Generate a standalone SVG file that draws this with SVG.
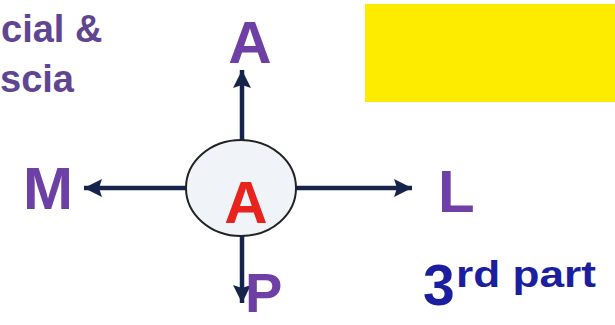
<svg xmlns="http://www.w3.org/2000/svg" width="615" height="325" viewBox="0 0 615 325">
<style>
.lbl{font-family:"Liberation Sans",Arial,sans-serif;font-weight:bold;fill:#6e40a6}
.side{font-family:"Liberation Sans",Arial,sans-serif;font-weight:bold;fill:#5f4592;font-size:38px}
.conn{stroke:#16244c;stroke-width:4.5;fill:none}
.blue{font-family:"Liberation Sans",Arial,sans-serif;font-weight:bold;fill:#1c1ea0}
</style>
<defs>
<marker id="ah" markerUnits="userSpaceOnUse" markerWidth="20" markerHeight="20" refX="18" refY="9" orient="auto">
<path d="M0,0 L18,9 L0,18 L3,9 Z" fill="#16244c"/>
</marker>
</defs>
<rect width="615" height="325" fill="#ffffff"/>
<g id="note">
<rect x="365" y="4" width="250" height="98" fill="#fdec00"/>
</g>
<g id="side-text">
<text class="side" x="1" y="42">cial &amp;</text>
<text class="side" x="0" y="92">scia</text>
</g>
<g id="connectors">
<line class="conn" x1="242" y1="140" x2="242" y2="70" marker-end="url(#ah)"/>
<line class="conn" x1="242" y1="236" x2="242" y2="303" marker-end="url(#ah)"/>
<line class="conn" x1="187" y1="188" x2="84" y2="188" marker-end="url(#ah)"/>
<line class="conn" x1="295" y1="188" x2="412" y2="188" marker-end="url(#ah)"/>
</g>
<g id="center">
<ellipse cx="241" cy="188" rx="55" ry="48" fill="#f0f4f9" stroke="#222" stroke-width="2"/>
<text class="lbl" x="246" y="223" text-anchor="middle" font-size="60" style="fill:#e8221c">A</text>
</g>
<g id="anterior"><text class="lbl" x="250" y="63" text-anchor="middle" font-size="60">A</text></g>
<g id="medial"><text class="lbl" x="48" y="209" text-anchor="middle" font-size="60">M</text></g>
<g id="lateral"><text class="lbl" x="438" y="212" font-size="60">L</text></g>
<g id="posterior"><text class="lbl" x="245" y="312" font-size="56">P</text></g>
<g id="part">
<text class="blue" x="423" y="305" font-size="57">3</text>
<text class="blue" x="456" y="287" font-size="37" textLength="140" lengthAdjust="spacingAndGlyphs">rd part</text>
</g>
</svg>
